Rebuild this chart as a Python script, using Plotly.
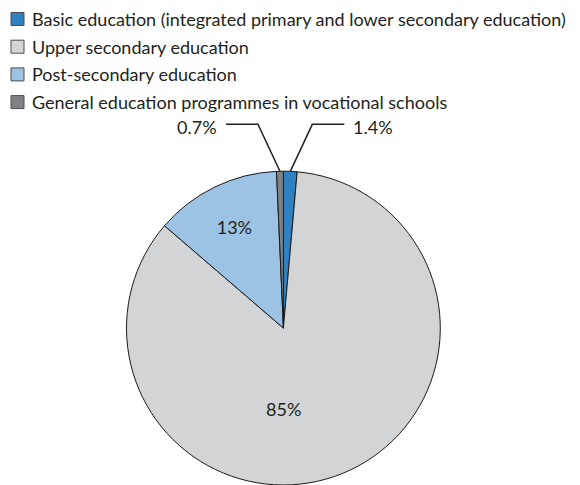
import math
import plotly.graph_objects as go

categories = [
    "Basic education (integrated primary and lower secondary education)",
    "Upper secondary education",
    "Post-secondary education",
    "General education programmes in vocational schools",
]
values = [1.4, 85, 13, 0.7]
value_labels = ["1.4%", "85%", "13%", "0.7%"]
colors = ["#2f81c1", "#d3d4d6", "#9cc3e3", "#808184"]

W, H = 580, 485
FONT = "Lato"
FS = 18
TXT = "#231f20"

# pie geometry (pixels)
cx, cy, r = 283.4, 328.5, 157.3
dom_x = [(cx - r) / W, (cx + r) / W]
dom_y = [max(1 - (cy + r) / H, 0), 1 - (cy - r) / H]

# how each value label is shown: plotly inside text, callout, or fixed annotation
label_mode = ["callout", "below", "inside", "callout"]
text_pos = ["inside" if m == "inside" else "none" for m in label_mode]


def to_paper(x, y):
    return x / W, 1 - y / H


fig = go.Figure()
fig.add_trace(go.Pie(
    labels=categories,
    values=values,
    text=value_labels,
    textinfo="text",
    textposition=text_pos,
    insidetextorientation="horizontal",
    sort=False,
    direction="clockwise",
    rotation=0,
    marker=dict(colors=colors, line=dict(color="#1a1a1a", width=1)),
    domain=dict(x=dom_x, y=dom_y),
    textfont=dict(family=FONT, size=FS, color=TXT),
    hoverinfo="label+percent",
    showlegend=False,
))

shapes = []
annotations = []

# value labels
total = sum(values)
cum = 0
for v, lab, mode in zip(values, value_labels, label_mode):
    mid = (cum + v / 2) / total * 2 * math.pi
    cum += v
    if mode == "callout":
        px = cx + r * math.sin(mid)
        py = cy - r * math.cos(mid)
        side = 1 if math.sin(mid) > 0 else -1
        ex, ey = px + side * 22, py - 47
        hx = ex + side * 32
        a = to_paper(px, py); b = to_paper(ex, ey); c = to_paper(hx, ey)
        shapes.append(dict(
            type="path", xref="paper", yref="paper",
            path=f"M{a[0]},{a[1]} L{b[0]},{b[1]} L{c[0]},{c[1]}",
            line=dict(color=TXT, width=1.5),
        ))
        tx, ty = to_paper(hx + side * 7, ey + 2.5)
        annotations.append(dict(
            x=tx, y=ty, xref="paper", yref="paper", text=lab, showarrow=False,
            xanchor="left" if side > 0 else "right", yanchor="middle",
            font=dict(family=FONT, size=FS, color=TXT),
        ))
    elif mode == "below":
        tx, ty = to_paper(cx, cy + 0.51 * r)
        annotations.append(dict(
            x=tx, y=ty, xref="paper", yref="paper", text=lab, showarrow=False,
            xanchor="center", yanchor="middle",
            font=dict(family=FONT, size=FS, color=TXT),
        ))

# legend (squares + text) at the top left
LEG_X, LEG_Y0, LEG_DY, SQ = 11, 19, 27.7, 13
for i, (cat, col) in enumerate(zip(categories, colors)):
    yc = LEG_Y0 + i * LEG_DY
    x0, y0 = to_paper(LEG_X, yc + SQ / 2)
    x1, y1 = to_paper(LEG_X + SQ, yc - SQ / 2)
    shapes.append(dict(
        type="rect", xref="paper", yref="paper", x0=x0, y0=y0, x1=x1, y1=y1,
        fillcolor=col, line=dict(color="#4d4d4f", width=1),
    ))
    tx, ty = to_paper(LEG_X + SQ + 6, yc)
    annotations.append(dict(
        x=tx, y=ty, xref="paper", yref="paper", text=cat, showarrow=False,
        xanchor="left", yanchor="middle",
        font=dict(family=FONT, size=FS, color=TXT),
    ))

fig.update_layout(
    width=W, height=H,
    margin=dict(l=0, r=0, t=0, b=0),
    paper_bgcolor="white",
    plot_bgcolor="white",
    font=dict(family=FONT, size=FS, color=TXT),
    showlegend=False,
    shapes=shapes,
    annotations=annotations,
)

fig.write_html("out.html")
